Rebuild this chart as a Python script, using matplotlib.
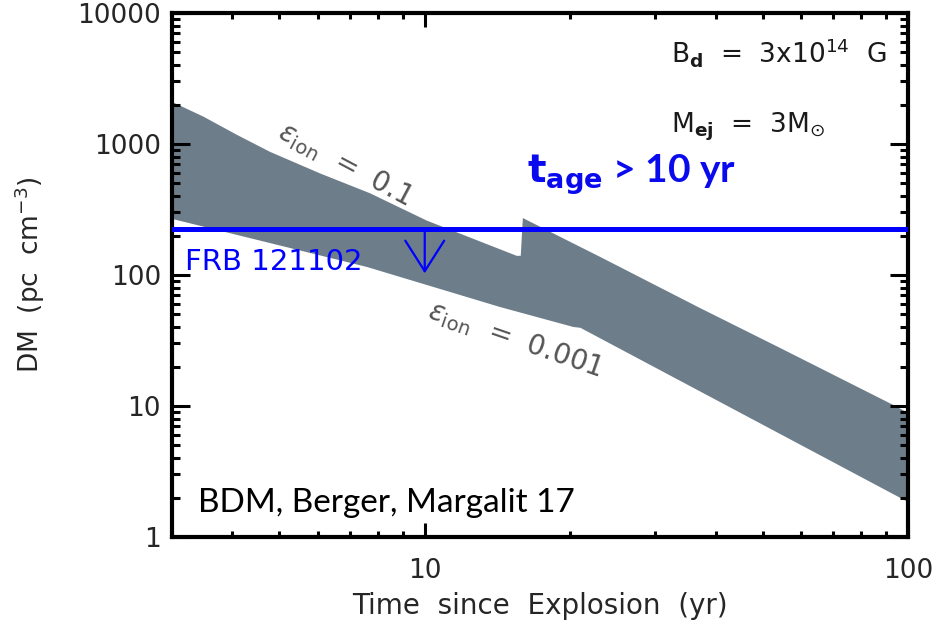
import matplotlib
matplotlib.use('Agg')
import matplotlib.pyplot as plt
from matplotlib.ticker import LogLocator, NullFormatter, FixedLocator

plt.rcParams['font.family'] = ['DejaVu Sans']
plt.rcParams['mathtext.fontset'] = 'custom'
plt.rcParams['mathtext.rm'] = 'DejaVu Sans'
plt.rcParams['mathtext.it'] = 'DejaVu Sans:italic'
plt.rcParams['mathtext.bf'] = 'DejaVu Sans:bold'

# upper edge of the band (eps_ion = 0.1)
t_upper = [3.0, 3.48, 4.09, 4.79, 6.08, 7.71, 10.1, 15.5, 15.8, 15.96, 18.2, 23.1, 37.1, 54.4, 93.1, 100]
dm_upper = [2094, 1620, 1172, 869, 595, 420, 260, 140, 140, 272, 213, 137, 56, 27.7, 10.2, 8.85]
# lower edge of the band (eps_ion = 0.001)
t_lower = [3.0, 7.6, 14.3, 20.3, 21.0, 100]
dm_lower = [268, 115, 57, 40.1, 39.5, 1.85]

dm_frb = 224          # FRB 121102 upper limit
t_arrow = 10
dm_arrow_tip = 103

fig = plt.figure(figsize=(9.36, 6.26), dpi=100)
ax = fig.add_axes([0.1838, 0.1422, 0.7863, 0.8371])

# band between the two ionisation fractions
ax.fill(t_upper + t_lower[::-1], dm_upper + dm_lower[::-1],
        color='#6d7e8a', lw=0, zorder=1)

# FRB 121102 line + arrow
ax.axhline(dm_frb, color='#0000ff', lw=3.6, zorder=3)
ax.annotate('', xy=(t_arrow, dm_arrow_tip), xytext=(t_arrow, dm_frb),
            arrowprops=dict(arrowstyle='->,head_length=1.1,head_width=0.7',
                            color='#0000ff', lw=1.6, shrinkA=0, shrinkB=0,
                            mutation_scale=20), zorder=3)

ax.set_xscale('log')
ax.set_yscale('log')
ax.set_xlim(3, 100)
ax.set_ylim(1, 10000)

ax.xaxis.set_major_locator(FixedLocator([10, 100]))
ax.set_xticklabels(['10', '100'])
ax.xaxis.set_minor_locator(LogLocator(base=10, subs=range(2, 10)))
ax.xaxis.set_minor_formatter(NullFormatter())
ax.yaxis.set_major_locator(FixedLocator([1, 10, 100, 1000, 10000]))
ax.set_yticklabels(['1', '10', '100', '1000', '10000'])
ax.yaxis.set_minor_locator(LogLocator(base=10, subs=range(2, 10)))
ax.yaxis.set_minor_formatter(NullFormatter())

ax.tick_params(which='both', direction='in', top=True, right=True,
               colors='black', labelcolor='#262626', labelsize=19)
ax.tick_params(axis='x', which='major', length=10, width=2.2, pad=15)
ax.tick_params(axis='x', which='minor', length=4, width=2.2)
ax.tick_params(axis='y', which='major', length=13, width=2.2, pad=8)
ax.tick_params(axis='y', which='minor', length=6, width=2.2)
for s in ax.spines.values():
    s.set_linewidth(3)

ax.set_xlabel('Time  since  Explosion  (yr)', fontsize=20, color='#262626', labelpad=6)
ax.set_ylabel('DM  (pc  cm$^{-3}$)', fontsize=19, color='#262626', labelpad=22)

# labels
ax.text(0.0177, 0.525, 'FRB 121102', transform=ax.transAxes, color='#0000ff',
        fontsize=21, ha='left', va='center')
ax.text(0.678, 0.906, r'B$_{\mathbf{d}}$  =  3x10$^{14}$  G', transform=ax.transAxes,
        fontsize=19, ha='left', va='baseline', color='#1a1a1a')
ax.text(0.678, 0.771, r'M$_{\mathbf{ej}}$  =  3M$_{\odot}$', transform=ax.transAxes,
        fontsize=19, ha='left', va='baseline', color='#1a1a1a')
ax.text(0.235, 0.71, r'$\varepsilon_{\rm ion}$  =  $\it{0.1}$', transform=ax.transAxes,
        fontsize=20, rotation=-28, ha='center', va='center', color='#555555',
        rotation_mode='anchor')
ax.text(0.466, 0.376, r'$\varepsilon_{\rm ion}$  =  $\it{0.001}$', transform=ax.transAxes,
        fontsize=20, rotation=-19, ha='center', va='center', color='#555555',
        rotation_mode='anchor')
ax.text(0.482, 0.676, r'$\mathbf{t_{age}}$ > 10 yr', transform=ax.transAxes,
        fontsize=28, fontweight='bold', family='Lato', color='#0a0aee',
        ha='left', va='baseline')
ax.text(0.035, 0.048, 'BDM, Berger, Margalit 17', transform=ax.transAxes,
        fontsize=24, family='Lato', color='black', ha='left', va='baseline')

fig.savefig('out.png', dpi=100)
